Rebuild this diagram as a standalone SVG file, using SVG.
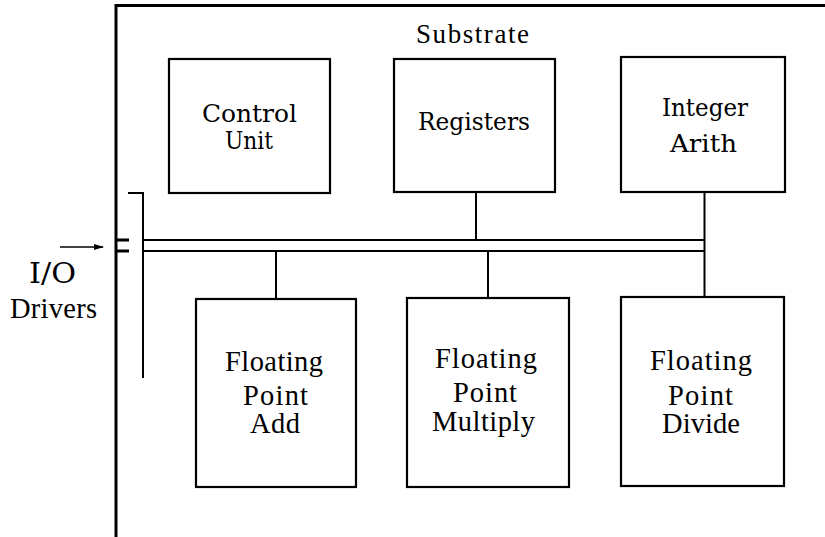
<svg xmlns="http://www.w3.org/2000/svg" width="825" height="537" viewBox="0 0 825 537">
<style>
.box{fill:#fff;stroke:#000;stroke-width:2.2}
.ln{fill:none;stroke:#000;stroke-width:2}
.thick{fill:none;stroke:#000;stroke-width:3}
.cs{font-family:'DejaVu Serif',serif;font-size:25px;fill:#000}
.tr{font-family:'Liberation Serif','Times New Roman',Tinos,serif;font-size:28.5px;fill:#000}
.sub{font-size:27px}
.drv{font-size:28.5px}
.io{font-size:27px}
</style>
<defs>
<marker id="ah" markerWidth="10" markerHeight="8" refX="9" refY="4" orient="auto" markerUnits="userSpaceOnUse">
<path d="M0,1 L10,4 L0,7 Z" fill="#000"/>
</marker>
</defs>
<g id="substrate">
<path class="thick" d="M116,537 V5.5 H825"/>
<text class="tr sub" x="416" y="43" textLength="113" lengthAdjust="spacing">Substrate</text>
</g>
<g id="connectors">
<path class="ln" d="M143,240 H705 M143,251 H704"/>
<path class="ln" d="M704.5,192 V298"/>
<path class="ln" d="M476,192 V240"/>
<path class="ln" d="M276,251 V299"/>
<path class="ln" d="M488,251 V298"/>
<path class="ln" d="M128,193 H143 V378"/>
<path class="thick" d="M116,240 H129 M116,251 H129"/>
<path fill="none" stroke="#000" stroke-width="1.6" d="M60,247 H103" marker-end="url(#ah)"/>
</g>
<g id="io">
<text class="cs io" x="29" y="283" textLength="47" lengthAdjust="spacingAndGlyphs">I/O</text>
<text class="tr drv" x="10" y="318" textLength="87" lengthAdjust="spacing">Drivers</text>
</g>
<g id="control-unit">
<rect class="box" x="169" y="59" width="161" height="134"/>
<text class="cs" x="202" y="122" textLength="95" lengthAdjust="spacingAndGlyphs">Control</text>
<text class="cs" x="225" y="149" textLength="48" lengthAdjust="spacingAndGlyphs">Unit</text>
</g>
<g id="registers">
<rect class="box" x="394" y="59" width="161" height="133"/>
<text class="cs" x="418" y="130" textLength="112" lengthAdjust="spacingAndGlyphs">Registers</text>
</g>
<g id="integer-arith">
<rect class="box" x="621" y="57" width="164" height="135"/>
<text class="cs" x="662" y="116" textLength="86" lengthAdjust="spacingAndGlyphs">Integer</text>
<text class="cs" x="670" y="152" textLength="67" lengthAdjust="spacingAndGlyphs">Arith</text>
</g>
<g id="fp-add">
<rect class="box" x="196" y="299" width="160" height="188"/>
<text class="tr" x="225" y="371" textLength="98" lengthAdjust="spacing">Floating</text>
<text class="tr" x="243" y="405" textLength="65" lengthAdjust="spacing">Point</text>
<text class="tr" x="250" y="433" textLength="50" lengthAdjust="spacing">Add</text>
</g>
<g id="fp-multiply">
<rect class="box" x="407" y="298" width="162" height="189"/>
<text class="tr" x="435" y="368" textLength="102" lengthAdjust="spacing">Floating</text>
<text class="tr" x="453" y="402" textLength="64" lengthAdjust="spacing">Point</text>
<text class="tr" x="432" y="431" textLength="103" lengthAdjust="spacing">Multiply</text>
</g>
<g id="fp-divide">
<rect class="box" x="621" y="297" width="163" height="189"/>
<text class="tr" x="650" y="370" textLength="102" lengthAdjust="spacing">Floating</text>
<text class="tr" x="668" y="405" textLength="65" lengthAdjust="spacing">Point</text>
<text class="tr" x="662" y="433" textLength="78" lengthAdjust="spacing">Divide</text>
</g>
</svg>
